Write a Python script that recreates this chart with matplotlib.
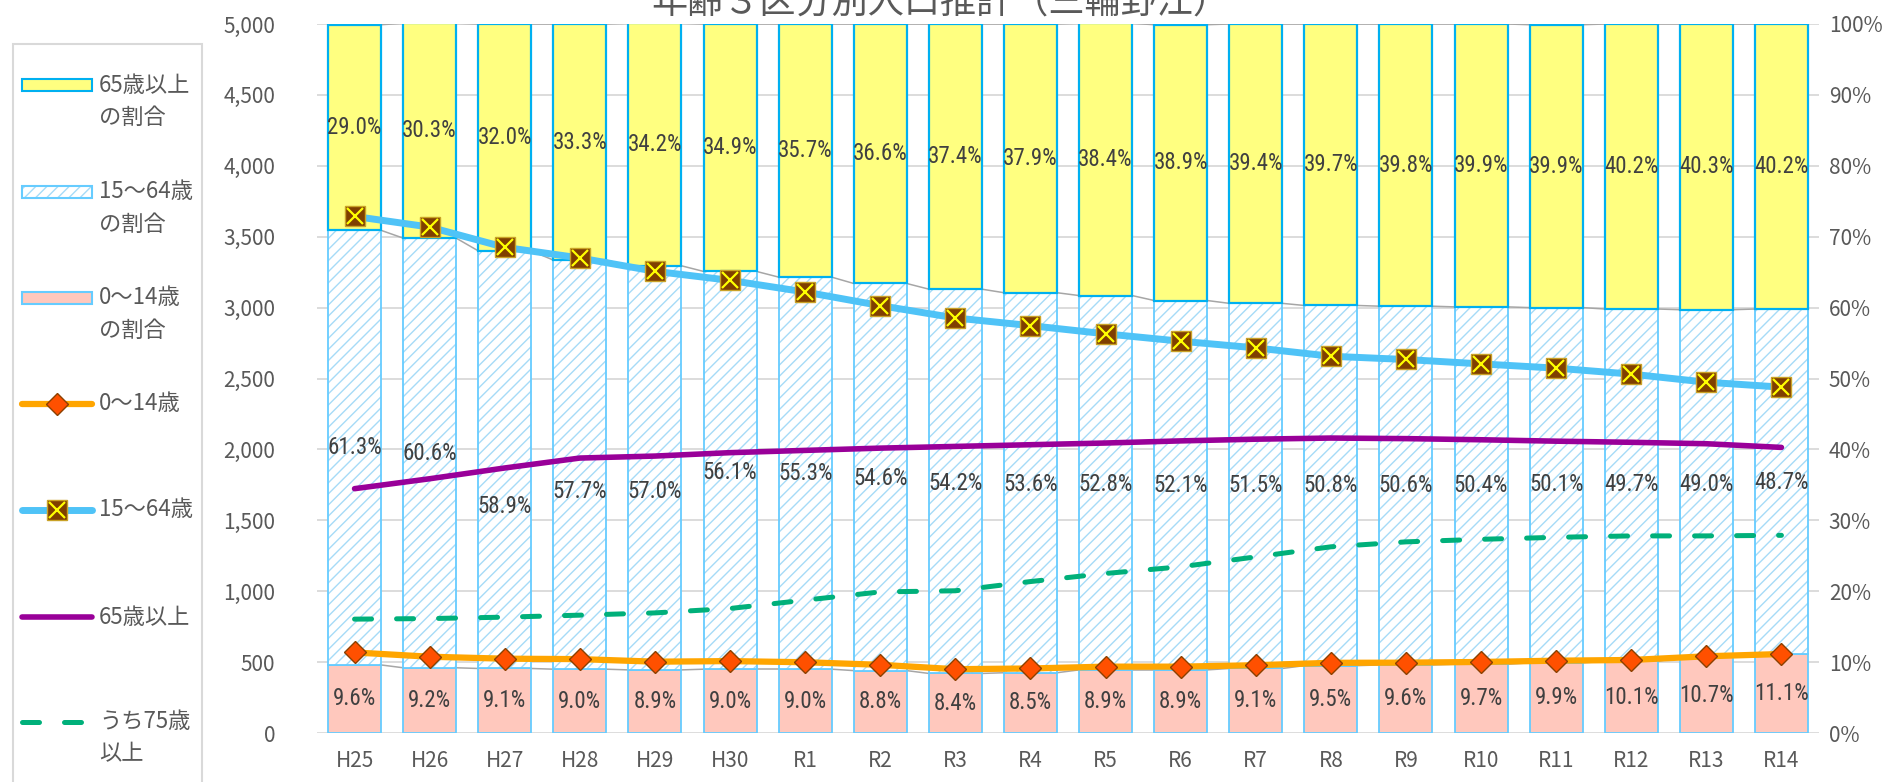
import matplotlib
matplotlib.use("Agg")
import matplotlib.pyplot as plt
from matplotlib.patches import Rectangle
from matplotlib.lines import Line2D
from matplotlib.ticker import FuncFormatter, MultipleLocator
from matplotlib import font_manager as fm

plt.rcParams['font.family'] = ['Noto Sans CJK JP', 'DejaVu Sans']
plt.rcParams['hatch.linewidth'] = 1.0

# ---------------- data ----------------
years = ["H25", "H26", "H27", "H28", "H29", "H30", "R1", "R2", "R3", "R4",
         "R5", "R6", "R7", "R8", "R9", "R10", "R11", "R12", "R13", "R14"]
share_0_14 = [9.6, 9.2, 9.1, 9.0, 8.9, 9.0, 9.0, 8.8, 8.4, 8.5,
              8.9, 8.9, 9.1, 9.5, 9.6, 9.7, 9.9, 10.1, 10.7, 11.1]
share_15_64 = [61.3, 60.6, 58.9, 57.7, 57.0, 56.1, 55.3, 54.6, 54.2, 53.6,
               52.8, 52.1, 51.5, 50.8, 50.6, 50.4, 50.1, 49.7, 49.0, 48.7]
share_65 = [29.0, 30.3, 32.0, 33.3, 34.2, 34.9, 35.7, 36.6, 37.4, 37.9,
            38.4, 38.9, 39.4, 39.7, 39.8, 39.9, 39.9, 40.2, 40.3, 40.2]
pop_0_14 = [568, 538, 524, 521, 503, 507, 499, 481, 450, 455,
            468, 468, 478, 495, 496, 501, 510, 515, 541, 557]
pop_15_64 = [3643, 3568, 3425, 3350, 3256, 3192, 3110, 3014, 2927, 2873,
             2815, 2763, 2716, 2657, 2634, 2603, 2573, 2531, 2474, 2439]
pop_65 = [1723, 1793, 1869, 1939, 1953, 1977, 1993, 2009, 2021, 2033,
          2045, 2060, 2072, 2080, 2076, 2068, 2058, 2050, 2040, 2014]
pop_75 = [803, 807, 817, 831, 847, 878, 937, 995, 1003, 1068,
          1125, 1172, 1242, 1313, 1348, 1366, 1380, 1390, 1390, 1394]
# label heights (in %) for the 15-64 share labels (placed by hand in the original)
label_pos_15_64 = [40.2, 39.4, 31.9, 34.1, 34.0, 36.8, 36.6, 35.9, 35.2, 35.1,
                   35.1, 34.9, 34.9, 34.9, 34.9, 34.9, 35.0, 35.0, 35.1, 35.3]

title = "年齢３区分別人口推計（三輪野江）"
legend_labels = ["65歳以上\nの割合", "15～64歳\nの割合", "0～14歳\nの割合",
                 "0～14歳", "15～64歳", "65歳以上", "うち75歳\n以上"]

# ---------------- fonts ----------------
names = {f.name for f in fm.fontManager.ttflist}
if 'Liberation Sans Narrow' in names:
    lab_font = dict(family='Liberation Sans Narrow', size=18)
elif 'Roboto Condensed' in names:
    lab_font = dict(family='Roboto Condensed', size=16.5)
else:
    lab_font = dict(family='DejaVu Sans', size=13.5)

# ---------------- colours ----------------
C_YEL = '#FFFF80'
C_YEL_E = '#00B0F0'
C_MID_E = '#66CCFF'
C_HATCH = '#A6DBF7'
C_PINK = '#FFC8BD'
C_ORANGE = '#FFA500'
C_DIAM = '#FF5000'
C_DIAM_E = '#8B4000'
C_BLUE = '#4FC3F7'
C_SQ = '#7F3F00'
C_SQ_E = '#C9A227'
C_X = '#FFFF00'
C_PURPLE = '#990099'
C_GREEN = '#00B07A'
C_GRID = '#D9D9D9'
C_TXT = '#595959'
C_LAB = '#404040'

W, H = 1890, 782
fig = plt.figure(figsize=(W / 100, H / 100), dpi=100)
L, R, T, B = 317, 1819, 24, 733
ax = fig.add_axes([L / W, 1 - B / H, (R - L) / W, (B - T) / H])
ax2 = ax.twinx()

n = len(years)
x = list(range(n))
bw = 0.705

# grid
for v in range(10, 101, 10):
    ax.axhline(v, color=C_GRID, lw=1.3, zorder=0)
ax.axhline(0, color=C_GRID, lw=2.0, zorder=0)

cum1 = share_0_14
cum2 = [a + b for a, b in zip(share_0_14, share_15_64)]
cum3 = [a + b + c for a, b, c in zip(share_0_14, share_15_64, share_65)]

ax.bar(x, share_0_14, bw, color=C_PINK, edgecolor=C_MID_E, lw=1.3, zorder=2)
ax.bar(x, share_15_64, bw, bottom=cum1, color='white', edgecolor=C_HATCH,
       hatch='///', lw=0, zorder=2)
ax.bar(x, share_15_64, bw, bottom=cum1, fill=False, edgecolor=C_MID_E,
       lw=1.3, zorder=2.1)
ax.bar(x, share_65, bw, bottom=cum2, color=C_YEL, edgecolor=C_YEL_E,
       lw=1.6, zorder=2.2)

# series lines
for lev in (cum1, cum2, cum3):
    for i in range(n - 1):
        ax.plot([x[i] + bw / 2, x[i + 1] - bw / 2], [lev[i], lev[i + 1]],
                color='#A6A6A6', lw=1.1, zorder=1.5)

# data labels
for i in range(n):
    ax.text(x[i], share_0_14[i] / 2, f"{share_0_14[i]:.1f}%", ha='center',
            va='center', color=C_LAB, zorder=5, **lab_font)
    ax.text(x[i], label_pos_15_64[i], f"{share_15_64[i]:.1f}%", ha='center',
            va='center', color=C_LAB, zorder=5, **lab_font)
    ax.text(x[i], cum2[i] + share_65[i] / 2, f"{share_65[i]:.1f}%",
            ha='center', va='center', color=C_LAB, zorder=5, **lab_font)

ax.set_xlim(-0.5, n - 0.5)
ax.set_ylim(0, 100)
ax2.set_ylim(0, 5000)

# lines
ax2.plot(x, pop_75, color=C_GREEN, lw=3.6, dashes=(3.4, 5.0),
         dash_capstyle='round', solid_capstyle='round', zorder=3)
ax2.plot(x, pop_65, color=C_PURPLE, lw=4.0, solid_capstyle='round', zorder=3)
ax2.plot(x, pop_0_14, color=C_ORANGE, lw=4.5, marker='D', ms=11,
         mfc=C_DIAM, mec=C_DIAM_E, mew=1.0, zorder=4)
ax2.plot(x, pop_15_64, color=C_BLUE, lw=5.0, marker='s', ms=14,
         mfc=C_SQ, mec=C_SQ_E, mew=1.0, zorder=4)
ax2.plot(x, pop_15_64, ls='none', marker='x', ms=11.5, mec=C_X, mew=1.6, zorder=4.5)

# axes formatting
for a in (ax, ax2):
    for s in a.spines.values():
        s.set_visible(False)
    a.tick_params(length=0, colors=C_TXT, labelsize=15)

ax.yaxis.tick_right()
ax.yaxis.set_major_locator(MultipleLocator(10))
ax.yaxis.set_major_formatter(FuncFormatter(lambda v, p: f"{v:.0f}%"))
ax.tick_params(axis='y', pad=7)
ax2.yaxis.tick_left()
ax2.yaxis.set_major_locator(MultipleLocator(500))
ax2.yaxis.set_major_formatter(FuncFormatter(lambda v, p: f"{v:,.0f}"))
ax2.tick_params(axis='y', pad=30)
ax.set_xticks(x)
ax.set_xticklabels(years)
ax.tick_params(axis='x', pad=12)

# title (partly cut off at the top, as in the original)
fig.text(0.4975, 1 - 13.5 / H, title, ha='center', va='baseline',
         fontsize=26, color=C_TXT)

# ---------------- legend (manual) ----------------
lax = fig.add_axes([0, 0, 1, 1])
lax.set_xlim(0, W)
lax.set_ylim(H, 0)
lax.set_axis_off()
lax.add_patch(Rectangle((13, 44), 189, 780, facecolor='white',
                        edgecolor=C_GRID, lw=1.5))
ys = [85, 192, 298, 404, 510, 617, 722]
hx0, hx1 = 22, 92
hm = (hx0 + hx1) / 2
lax.add_patch(Rectangle((hx0, ys[0] - 6), hx1 - hx0, 12, facecolor=C_YEL,
                        edgecolor=C_YEL_E, lw=1.5))
lax.add_patch(Rectangle((hx0, ys[1] - 6), hx1 - hx0, 12, facecolor='white',
                        edgecolor=C_HATCH, hatch='///', lw=0))
lax.add_patch(Rectangle((hx0, ys[1] - 6), hx1 - hx0, 12, fill=False,
                        edgecolor=C_MID_E, lw=1.5))
lax.add_patch(Rectangle((hx0, ys[2] - 6), hx1 - hx0, 12, facecolor=C_PINK,
                        edgecolor=C_MID_E, lw=1.5))
lax.add_line(Line2D([hx0, hx1], [ys[3], ys[3]], color=C_ORANGE, lw=4.5,
                    solid_capstyle='round'))
lax.add_line(Line2D([hm], [ys[3]], ls='none', marker='D', ms=11, mfc=C_DIAM,
                    mec=C_DIAM_E, mew=1.0))
lax.add_line(Line2D([hx0, hx1], [ys[4], ys[4]], color=C_BLUE, lw=5.0,
                    solid_capstyle='round'))
lax.add_line(Line2D([hm], [ys[4]], ls='none', marker='s', ms=14, mfc=C_SQ,
                    mec=C_SQ_E, mew=1.0))
lax.add_line(Line2D([hm], [ys[4]], ls='none', marker='x', ms=11.5, mec=C_X,
                    mew=1.6))
lax.add_line(Line2D([hx0, hx1], [ys[5], ys[5]], color=C_PURPLE, lw=4.0,
                    solid_capstyle='round'))
lax.add_line(Line2D([hx0, hx1], [ys[6], ys[6]], color=C_GREEN, lw=3.6,
                    dashes=(3.4, 5.0), dash_capstyle='round'))
for yy, lab in zip(ys, legend_labels):
    for k, line in enumerate(lab.split("\n")):
        lax.text(99, yy + 32 * k, line, ha='left', va='center', fontsize=16,
                 color=C_TXT)

fig.savefig("out.png", dpi=100)
